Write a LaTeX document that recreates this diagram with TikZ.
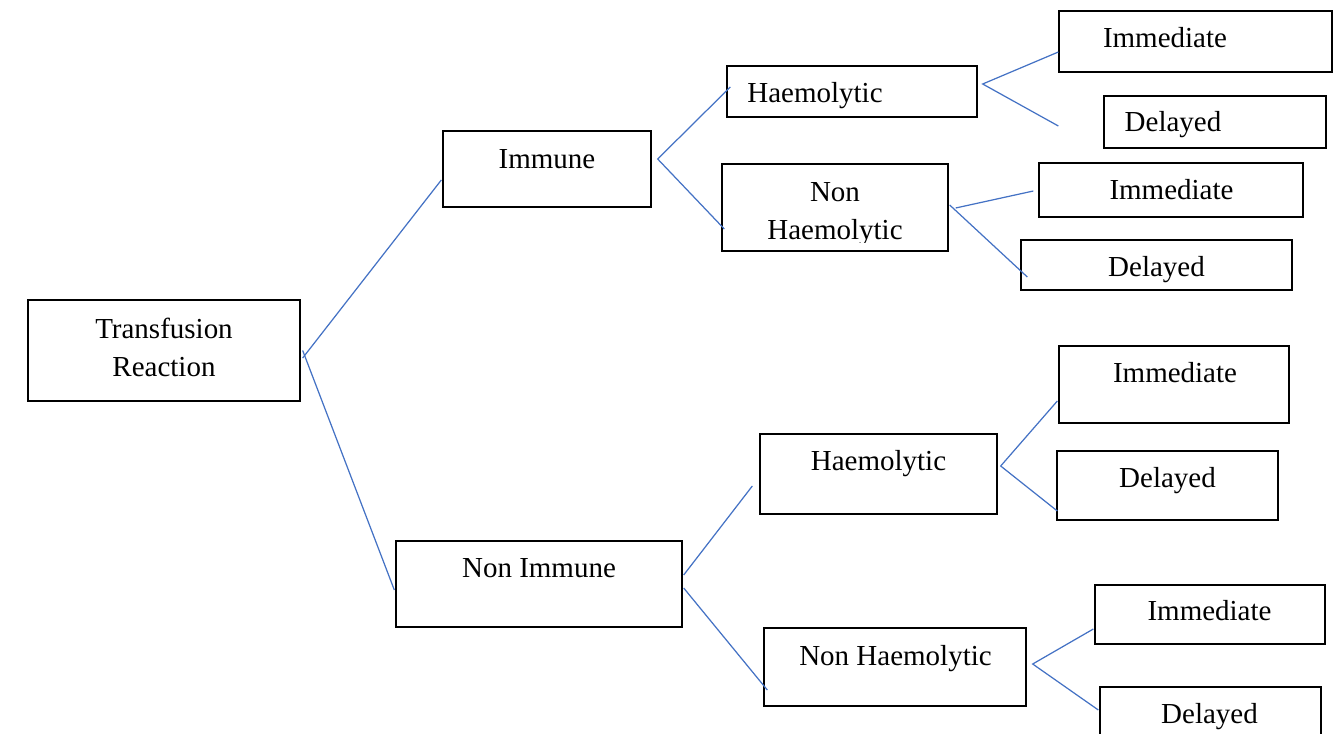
\documentclass[tikz,border=0pt]{standalone}
\usepackage{fontspec}
\setmainfont{Liberation Serif}
\definecolor{linkblue}{HTML}{4472C4}
\tikzset{
	box/.style = {draw, line width=0.8pt, inner sep=0pt},
	txt/.style = {anchor=base, inner sep=0pt, font=\fontsize{16.5}{21.6}\selectfont},
	twoline/.style = {anchor=center, align=center, inner sep=0pt, font=\fontsize{16.5}{21.6}\selectfont},
	link/.style = {draw=linkblue, line width=0.7pt}
}

\begin{document}
\begin{tikzpicture}[x=0.02cm,y=-0.02cm]
%
	\clip (0,0) rectangle (1344,733);
	\useasboundingbox (0,0) rectangle (1344,733);
%
	\node[box, minimum width=5.44cm, minimum height=2.02cm] (tr) at (164,350.5) {};
	\node[box, minimum width=4.16cm, minimum height=1.52cm] (imm) at (547,169) {};
	\node[box, minimum width=5.72cm, minimum height=1.72cm] (nimm) at (539,584) {};
	\node[box, minimum width=5.00cm, minimum height=1.02cm] (haemA) at (852,91.5) {};
	\node[box, minimum width=4.52cm, minimum height=1.74cm] (nhaemA) at (835,207.5) {};
	\node[box, minimum width=4.74cm, minimum height=1.60cm] (haemB) at (878.5,474) {};
	\node[box, minimum width=5.24cm, minimum height=1.56cm] (nhaemB) at (895,667) {};
	\node[box, minimum width=5.46cm, minimum height=1.22cm] (immedA) at (1195.5,41.5) {};
	\node[box, minimum width=4.44cm, minimum height=1.04cm] (delA) at (1215,122) {};
	\node[box, minimum width=5.28cm, minimum height=1.08cm] (immedB) at (1171,190) {};
	\node[box, minimum width=5.42cm, minimum height=1.00cm] (delB) at (1156.5,265) {};
	\node[box, minimum width=4.60cm, minimum height=1.54cm] (immedC) at (1174,384.5) {};
	\node[box, minimum width=4.42cm, minimum height=1.38cm] (delC) at (1167.5,485.5) {};
	\node[box, minimum width=4.60cm, minimum height=1.18cm] (immedD) at (1210,614.5) {};
	\node[box, minimum width=4.42cm, minimum height=1.46cm] (delD) at (1210.5,723.5) {};
%
	\node[twoline] (tr-t) at (164,347) {Transfusion\\Reaction};
	\node[txt] (imm-t) at (547,168.5) {Immune};
	\node[txt] (nimm-t) at (539,577.5) {Non Immune};
	\node[txt] (haemA-t) at (815,102.5) {Haemolytic};
	\begin{scope}
		\clip (722,164) rectangle (948,242);
		\node[twoline] (nhaemA-t) at (835,214.5) {Non\\Haemolytic};
	\end{scope}
	\node[txt] (haemB-t) at (878.5,470.5) {Haemolytic};
	\node[txt] (nhaemB-t) at (895.5,665.5) {Non Haemolytic};
	\node[txt] (immedA-t) at (1165,47.5) {Immediate};
	\node[txt] (delA-t) at (1173,131.5) {Delayed};
	\node[txt] (immedB-t) at (1171.5,199.5) {Immediate};
	\node[txt] (delB-t) at (1156.5,276.5) {Delayed};
	\node[txt] (immedC-t) at (1175,382.5) {Immediate};
	\node[txt] (delC-t) at (1167.5,487.5) {Delayed};
	\node[txt] (immedD-t) at (1209.5,620.5) {Immediate};
	\node[txt] (delD-t) at (1209.5,723.5) {Delayed};
%
	\draw[link] ([shift={(2,7.5)}]tr.east) -- ([shift={(-1,11)}]imm.west);
	\draw[link] ([shift={(2,0)}]tr.east) -- ([shift={(-1,6)}]nimm.west);
%
	\draw[link] ([shift={(4,-4.5)}]haemA.west) -- ([shift={(6,-10)}]imm.east) -- ([shift={(3,21.5)}]nhaemA.west);
	\draw[link] ([shift={(0,10.5)}]immedA.west) -- ([shift={(5,-7.5)}]haemA.east) -- ([shift={(-45,4)}]delA.west);
	\draw[link] ([shift={(7,0.5)}]nhaemA.east) -- ([shift={(-5,1)}]immedB.west);
	\draw[link] ([shift={(1,-2.5)}]nhaemA.east) -- ([shift={(7,12)}]delB.west);
%
	\draw[link] ([shift={(1,-9)}]nimm.east) -- ([shift={(-7,12)}]haemB.west);
	\draw[link] ([shift={(1,4)}]nimm.east) -- ([shift={(4,23)}]nhaemB.west);
	\draw[link] ([shift={(-1,16.5)}]immedC.west) -- ([shift={(3,-8)}]haemB.east) -- ([shift={(1,25.5)}]delC.west);
	\draw[link] ([shift={(-1,14.5)}]immedD.west) -- ([shift={(6,-3)}]nhaemB.east) -- ([shift={(-1,-13.5)}]delD.west);
\end{tikzpicture}
\end{document}
